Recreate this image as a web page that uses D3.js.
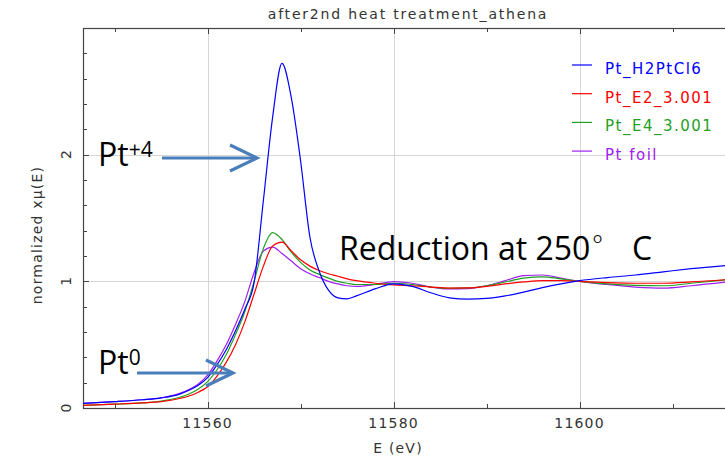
<!DOCTYPE html>
<html>

<head>
    <meta charset="UTF-8">
    <title>after2nd heat treatment_athena</title>
    <style>
        body {
            margin: 0;
            background: #fff;
        }

        svg {
            display: block;
        }

        .hershey {
            font-family: "DejaVu Sans", sans-serif;
            fill: #333;
        }

        .callout {
            font-family: "Open Sans", sans-serif;
            fill: #000;
        }
    </style>
</head>

<body>
    <svg></svg>
    <script src="https://d3js.org/d3.v7.min.js"></script>
    <script>

        let width = 725, height = 459

        // data (energy in eV, normalized absorption)
        const energy = [11546.6, 11550, 11553, 11555, 11557, 11558, 11559, 11560, 11561, 11562, 11563, 11564,
            11565, 11566, 11567, 11568, 11569, 11570, 11571, 11572, 11573, 11574, 11575, 11576, 11578, 11580,
            11582, 11584, 11586, 11588, 11590, 11592, 11594, 11596, 11598, 11600, 11603, 11606, 11609, 11612, 11616.5]

        const ptH2PtCl6 = [0.037, 0.05, 0.065, 0.08, 0.11, 0.14, 0.18, 0.24, 0.34, 0.46, 0.61, 0.78,
            0.99, 1.64, 2.30, 2.72, 2.45, 1.95, 1.35, 1.08, 0.93, 0.87, 0.862, 0.885, 0.94, 0.98,
            0.96, 0.91, 0.87, 0.86, 0.865, 0.885, 0.915, 0.95, 0.98, 1.005, 1.03, 1.05, 1.075, 1.10, 1.13]

        const ptE2 = [0.021, 0.03, 0.04, 0.05, 0.075, 0.095, 0.125, 0.168, 0.25, 0.36, 0.50, 0.68,
            0.90, 1.12, 1.28, 1.31, 1.24, 1.17, 1.12, 1.085, 1.06, 1.04, 1.02, 1.005, 0.985, 0.972,
            0.965, 0.955, 0.947, 0.948, 0.96, 0.98, 0.995, 1.005, 1.005, 1.0, 0.99, 0.985, 0.985, 0.995, 1.017]

        const ptE4 = [0.021, 0.03, 0.04, 0.055, 0.085, 0.11, 0.15, 0.208, 0.30, 0.42, 0.58, 0.76,
            1.0, 1.26, 1.385, 1.33, 1.23, 1.15, 1.09, 1.055, 1.025, 1.0, 0.985, 0.975, 0.975, 0.985,
            0.975, 0.955, 0.945, 0.948, 0.965, 0.995, 1.025, 1.035, 1.02, 1.0, 0.98, 0.968, 0.965, 0.985, 1.018]

        const ptFoil = [0.037, 0.05, 0.065, 0.08, 0.115, 0.145, 0.19, 0.26, 0.37, 0.50, 0.66, 0.84,
            1.07, 1.24, 1.27, 1.22, 1.16, 1.10, 1.06, 1.03, 1.0, 0.98, 0.965, 0.96, 0.975, 0.998,
            0.985, 0.955, 0.94, 0.942, 0.965, 1.005, 1.045, 1.05, 1.025, 1.0, 0.975, 0.955, 0.946, 0.965, 1.0]

        const seriesNames = ["Pt_H2PtCl6", "Pt_E2_3.001", "Pt_E4_3.001", "Pt foil"]
        const seriesValues = [ptH2PtCl6, ptE2, ptE4, ptFoil]
        const seriesColors = ["#0000ff", "#ff0000", "#22a022", "#a020f0"]

        const xMajor = [11560, 11580, 11600]
        const xMinor = [11550, 11570, 11590, 11610]
        const yMajor = [0, 1, 2]
        const yMinor = [0.2, 0.4, 0.6, 0.8, 1.2, 1.4, 1.6, 1.8, 2.2, 2.4, 2.6, 2.8]

        let svg = d3.select("svg")
            .attr("width", width)
            .attr("height", height)

        let pLeft = 83, pRight = 733, pTop = 28, pBottom = 408

        let x = d3.scaleLinear().domain([11546.6, 11616.5]).range([pLeft, pRight])
        let y = d3.scaleLinear().domain([0, 3]).range([pBottom, pTop])

        svg.append("defs").append("clipPath")
            .attr("id", "plotclip")
            .append("rect")
            .attr("x", pLeft).attr("y", pTop)
            .attr("width", pRight - pLeft).attr("height", pBottom - pTop)

        // grid
        let grid = svg.append("g").attr("stroke", "#d6d6d6").attr("stroke-width", 1)
        grid.selectAll("line.v")
            .data(xMajor)
            .enter().append("line")
            .attr("x1", d => Math.round(x(d)) + 0.5).attr("x2", d => Math.round(x(d)) + 0.5)
            .attr("y1", pTop).attr("y2", pBottom)
        grid.selectAll("line.h")
            .data(yMajor.slice(1))
            .enter().append("line")
            .attr("x1", pLeft).attr("x2", pRight)
            .attr("y1", d => Math.round(y(d)) + 0.5).attr("y2", d => Math.round(y(d)) + 0.5)

        // frame
        svg.append("rect")
            .attr("x", pLeft + 0.5).attr("y", pTop + 0.5)
            .attr("width", pRight - pLeft).attr("height", pBottom - pTop)
            .attr("fill", "none").attr("stroke", "#444").attr("stroke-width", 1.2)

        // ticks (inside)
        let ticks = svg.append("g").attr("stroke", "#444").attr("stroke-width", 1)
        xMajor.concat(xMinor).forEach(v => {
            let len = xMajor.includes(v) ? 6 : 4
            let px = Math.round(x(v)) + 0.5
            ticks.append("line").attr("x1", px).attr("x2", px).attr("y1", pBottom).attr("y2", pBottom - len)
            ticks.append("line").attr("x1", px).attr("x2", px).attr("y1", pTop).attr("y2", pTop + len)
        })
        yMajor.concat(yMinor).forEach(v => {
            let len = yMajor.includes(v) ? 6 : 4
            let py = Math.round(y(v)) + 0.5
            ticks.append("line").attr("x1", pLeft).attr("x2", pLeft + len).attr("y1", py).attr("y2", py)
        })

        // tick labels
        svg.append("g")
            .selectAll("text")
            .data(xMajor)
            .enter().append("text")
            .attr("class", "hershey")
            .attr("x", d => x(d))
            .attr("y", 428)
            .attr("text-anchor", "middle")
            .style("font-size", "14px")
            .style("letter-spacing", "1.2px")
            .text(d => d)

        svg.append("g")
            .selectAll("text")
            .data(yMajor)
            .enter().append("text")
            .attr("class", "hershey")
            .attr("transform", d => "translate(71," + y(d) + ") rotate(-90)")
            .attr("text-anchor", "middle")
            .style("font-size", "14px")
            .text(d => d)

        // titles
        svg.append("text")
            .attr("class", "hershey")
            .attr("x", 408).attr("y", 19)
            .attr("text-anchor", "middle")
            .style("font-size", "14px")
            .style("letter-spacing", "1.8px")
            .text("after2nd heat treatment_athena")

        svg.append("text")
            .attr("class", "hershey")
            .attr("x", 398).attr("y", 453)
            .attr("text-anchor", "middle")
            .style("font-size", "14px")
            .style("letter-spacing", "1.2px")
            .text("E (eV)")

        svg.append("text")
            .attr("class", "hershey")
            .attr("transform", "translate(42,235) rotate(-90)")
            .attr("text-anchor", "middle")
            .style("font-size", "14px")
            .style("letter-spacing", "1.2px")
            .text("normalized xμ(E)")

        // curves
        let line = d3.line()
            .x((d, i) => x(energy[i]))
            .y(d => y(d))
            .curve(d3.curveMonotoneX)

        let order = [3, 2, 1, 0]
        svg.append("g")
            .attr("clip-path", "url(#plotclip)")
            .selectAll("path")
            .data(order)
            .enter().append("path")
            .attr("fill", "none")
            .attr("stroke", i => seriesColors[i])
            .attr("stroke-width", 1.2)
            .attr("d", i => line(seriesValues[i]))

        // legend
        let legend = svg.append("g")
            .selectAll("g")
            .data(seriesNames)
            .enter().append("g")
            .attr("transform", (d, i) => "translate(0," + (65 + i * 28.7) + ")")
        legend.append("line")
            .attr("x1", 572).attr("x2", 592)
            .attr("stroke", (d, i) => seriesColors[i])
            .attr("stroke-width", 1.2)
        legend.append("text")
            .attr("x", 605).attr("y", 9)
            .style("font-family", "DejaVu Sans, sans-serif")
            .style("font-size", "15px")
            .style("letter-spacing", "1.5px")
            .attr("fill", (d, i) => seriesColors[i])
            .text(d => d)

        // annotations
        let arrowColor = "#4a7ebb"
        function arrow(x1, x2, yy) {
            let g = svg.append("g")
                .attr("stroke", arrowColor)
                .attr("stroke-width", 3.2)
                .attr("fill", "none")
                .attr("stroke-linecap", "butt")
            g.append("line").attr("x1", x1).attr("x2", x2 - 2).attr("y1", yy).attr("y2", yy)
            g.append("path")
                .attr("d", "M" + (x2 - 27) + "," + (yy - 13) + "L" + x2 + "," + yy + "L" + (x2 - 27) + "," + (yy + 13))
        }
        arrow(162, 257, 158)
        arrow(137, 233, 373)

        let pt4 = svg.append("text").attr("class", "callout").attr("x", 98).attr("y", 166)
        pt4.append("tspan").style("font-size", "32px").text("Pt")
        pt4.append("tspan").style("font-size", "21px").attr("dy", -9).text("+4")

        let pt0 = svg.append("text").attr("class", "callout").attr("x", 98).attr("y", 374)
        pt0.append("tspan").style("font-size", "32px").text("Pt")
        pt0.append("tspan").style("font-size", "21px").attr("dy", -9).text("0")

        svg.append("text").attr("class", "callout")
            .attr("x", 339).attr("y", 260)
            .style("font-size", "32px")
            .text("Reduction at 250")
        svg.append("text").attr("class", "callout")
            .attr("x", 592).attr("y", 254)
            .style("font-size", "26px")
            .style("font-weight", "300")
            .text("°")
        svg.append("text").attr("class", "callout")
            .attr("x", 632).attr("y", 260)
            .style("font-size", "32px")
            .text("C")

    </script>

</body>

</html>
